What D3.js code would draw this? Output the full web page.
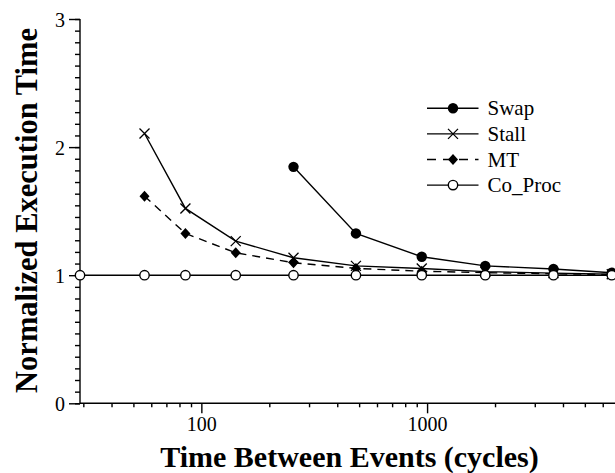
<!DOCTYPE html>
<html>
<head>
<meta charset="utf-8">
<script src="https://cdn.jsdelivr.net/npm/d3@7"></script>
<style>
  body { margin: 0; background: #fff; }
  svg { display: block; }
  svg text { font-family: serif; }
</style>
</head>
<body>
<div id="app"></div>
<script>
// time between events (cycles), shared by every series
const cycles = [29, 56, 85, 142, 256, 484, 947, 1810, 3630, 6580];
const swap = [null, null, null, null, 1.846, 1.326, 1.144, 1.073, 1.048, 1.019];
const stall = [null, 2.106, 1.521, 1.266, 1.136, 1.073, 1.052, 1.028, 1.016, 1.008];
const mt = [null, 1.617, 1.326, 1.175, 1.097, 1.053, 1.031, 1.02, 1.011, 1.005];
const coProc = [1, 1, 1, 1, 1, 1, 1, 1, 1, 1];
const seriesNames = ['Swap', 'Stall', 'MT', 'Co_Proc'];
const yTicks = [0, 1, 2, 3];
const xTicks = [100, 1000];

(() => {
  const width = 615;
  const height = 473;
  const left = 80;
  const right = 615;
  const top = 19;
  const bottom = 403.3;
  const serif = 'serif';

  const x = d3.scaleLog().domain([29, 6800]).range([left, right]);
  const y = d3.scaleLinear().domain([0, 3]).range([bottom, top]);

  const svg = d3.select('#app')
    .append('svg')
    .attr('width', width)
    .attr('height', height);

  // minor ticks: 11 intervals per unit on y, 2..9 per decade on x
  const yMinor = d3.range(0, 34).map(i => i / 11).filter(v => v <= 3);
  const xMinor = [];
  [10, 100, 1000].forEach(dec => d3.range(2, 10).forEach(k => {
    const v = k * dec;
    if (v >= 29 && v <= 6800) xMinor.push(v);
  }));

  const yAxis = svg.append('g')
    .attr('transform', `translate(${left},0)`)
    .call(d3.axisLeft(y).tickValues(yMinor).tickSize(5).tickFormat(''));
  yAxis.select('.domain').attr('d', `M0,${top}V${bottom}`);
  svg.append('g')
    .attr('transform', `translate(${left},0)`)
    .call(d3.axisLeft(y).tickValues(yTicks).tickSize(11).tickPadding(4).tickFormat(d3.format('d')))
    .call(g => g.select('.domain').remove())
    .attr('font-family', null)
    .attr('font-size', 20)
    .selectAll('text')
    .style('font-family', serif)
    .attr('dy', '0.35em');

  const xAxis = svg.append('g')
    .attr('transform', `translate(0,${bottom})`)
    .call(d3.axisBottom(x).tickValues(xMinor).tickSize(4).tickFormat(''));
  xAxis.select('.domain').attr('d', `M${left},0H${right}`);
  svg.append('g')
    .attr('transform', `translate(0,${bottom})`)
    .call(d3.axisBottom(x).tickValues(xTicks).tickSize(10).tickPadding(4).tickFormat(d3.format('d')))
    .call(g => g.select('.domain').remove())
    .attr('font-family', null)
    .attr('font-size', 20)
    .selectAll('text')
    .style('font-family', serif);

  svg.selectAll('.domain, .tick line')
    .attr('stroke', '#000')
    .attr('stroke-width', 1.4);

  // axis titles
  svg.append('text')
    .text('Time Between Events (cycles)')
    .attr('x', 349.5)
    .attr('y', 467)
    .style('font-family', serif)
    .attr('font-size', 30)
    .attr('font-weight', 'bold')
    .attr('text-anchor', 'middle');

  svg.append('text')
    .text('Normalized Execution Time')
    .attr('transform', 'translate(36.5,210.5) rotate(-90)')
    .style('font-family', serif)
    .attr('font-size', 30.5)
    .attr('font-weight', 'bold')
    .attr('text-anchor', 'middle');

  const series = [
    { name: seriesNames[0], values: swap, marker: 'dot', dash: null },
    { name: seriesNames[1], values: stall, marker: 'cross', dash: null },
    { name: seriesNames[2], values: mt, marker: 'diamond', dash: '8,6' },
    { name: seriesNames[3], values: coProc, marker: 'ring', dash: null }
  ];

  const drawMarker = (g, type) => {
    if (type === 'dot') {
      g.append('circle').attr('r', 5.2).attr('fill', '#000');
    } else if (type === 'ring') {
      g.append('circle').attr('r', 4.7).attr('fill', '#fff')
        .attr('stroke', '#000').attr('stroke-width', 1.4);
    } else if (type === 'cross') {
      g.append('path').attr('d', 'M-5,-5L5,5M-5,5L5,-5')
        .attr('stroke', '#000').attr('stroke-width', 1.3).attr('fill', 'none');
    } else {
      g.append('path').attr('d', 'M0,-5.5L5,0L0,5.5L-5,0Z').attr('fill', '#000');
    }
  };

  const line = d3.line()
    .defined(d => d.v !== null)
    .x(d => x(d.c))
    .y(d => y(d.v));

  series.forEach((s) => {
    const pts = cycles.map((c, i) => ({ c, v: s.values[i] }));
    svg.append('path')
      .datum(pts)
      .attr('d', line)
      .attr('fill', 'none')
      .attr('stroke', '#000')
      .attr('stroke-width', 1.4)
      .attr('stroke-dasharray', s.dash);
    pts.filter(d => d.v !== null).forEach((d) => {
      const g = svg.append('g').attr('transform', `translate(${x(d.c)},${y(d.v)})`);
      drawMarker(g, s.marker);
    });
  });

  // legend
  const legend = svg.append('g').attr('transform', 'translate(427,108.3)');
  series.forEach((s, i) => {
    const row = legend.append('g').attr('transform', `translate(0,${i * 25.6})`);
    row.append('line')
      .attr('x1', 0).attr('x2', 51.5)
      .attr('stroke', '#000')
      .attr('stroke-width', 1.4)
      .attr('stroke-dasharray', s.dash ? '9,7' : null);
    drawMarker(row.append('g').attr('transform', 'translate(26,0)'), s.marker);
    row.append('text')
      .text(s.name)
      .attr('x', 60.5)
      .attr('y', 7)
      .style('font-family', serif)
      .attr('font-size', 21);
  });
})();
</script>
</body>
</html>
